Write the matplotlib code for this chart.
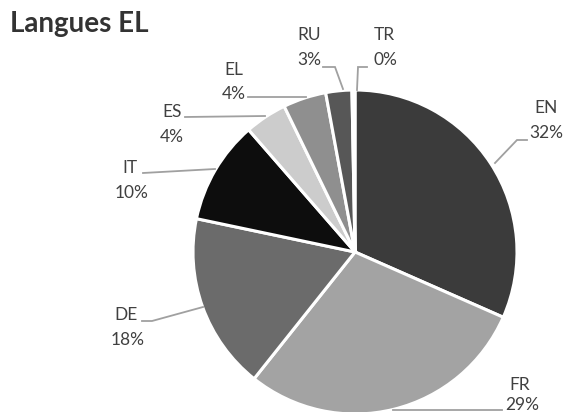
import matplotlib
matplotlib.use('Agg')
import matplotlib.pyplot as plt

# data
langs = ['EN', 'FR', 'DE', 'IT', 'ES', 'EL', 'RU', 'TR']
shares = [31.6, 29.1, 17.6, 10.3, 4.2, 4.3, 2.6, 0.3]
colors = ['#3b3b3b', '#a3a3a3', '#6b6b6b', '#0d0d0d', '#cccccc', '#8f8f8f', '#575757', '#2a2a2a']

# layout in pixel coords (y down): name centre, pct centre, leader polyline
W, H = 566, 412
label_pos = {
    'EN': ((546, 108), (546, 133), [(495, 163), (517, 140), (527, 140)]),
    'FR': ((520, 385), (522, 405), [(393, 410), (502, 410)]),
    'DE': ((126, 315), (128, 340), [(142, 321), (152, 321), (203, 307)]),
    'IT': ((130, 168), (132, 193), [(143, 173), (215, 169)]),
    'ES': ((172, 112), (172, 137), [(185, 117), (265, 116)]),
    'EL': ((234, 70), (234, 94), [(248, 97), (306, 97)]),
    'RU': ((309, 35), (309, 60), [(323, 67), (335, 67), (343, 89)]),
    'TR': ((384, 35), (385, 60), [(367, 67), (358, 67), (357, 90)]),
}

plt.rcParams['font.family'] = ['Lato', 'DejaVu Sans']

fig = plt.figure(figsize=(W / 100, H / 100), dpi=100)
ax = fig.add_axes([0, 0, 1, 1])
ax.set_xlim(0, W)
ax.set_ylim(0, H)
ax.set_aspect('equal')
ax.axis('off')

ax.pie(shares, colors=colors, startangle=90, counterclock=False,
       center=(355, H - 252), radius=162,
       wedgeprops=dict(edgecolor='white', linewidth=2.2))
ax.set_xlim(0, W)
ax.set_ylim(0, H)

tc = '#404040'
for lang, val in zip(langs, shares):
    name_xy, pct_xy, line = label_pos[lang]
    ax.text(name_xy[0], H - name_xy[1], lang, ha='center', va='center', fontsize=12.5, color=tc)
    ax.text(pct_xy[0], H - pct_xy[1], '%d%%' % round(val), ha='center', va='center', fontsize=12.5, color=tc)
    ax.plot([p[0] for p in line], [H - p[1] for p in line], color='#a0a0a0', lw=1.3,
            solid_joinstyle='miter')

fig.text(10 / W, 1 - 24 / H, 'Langues EL', ha='left', va='center', fontsize=20,
         fontweight='bold', color='#333333')

fig.savefig('out.png', dpi=100)
